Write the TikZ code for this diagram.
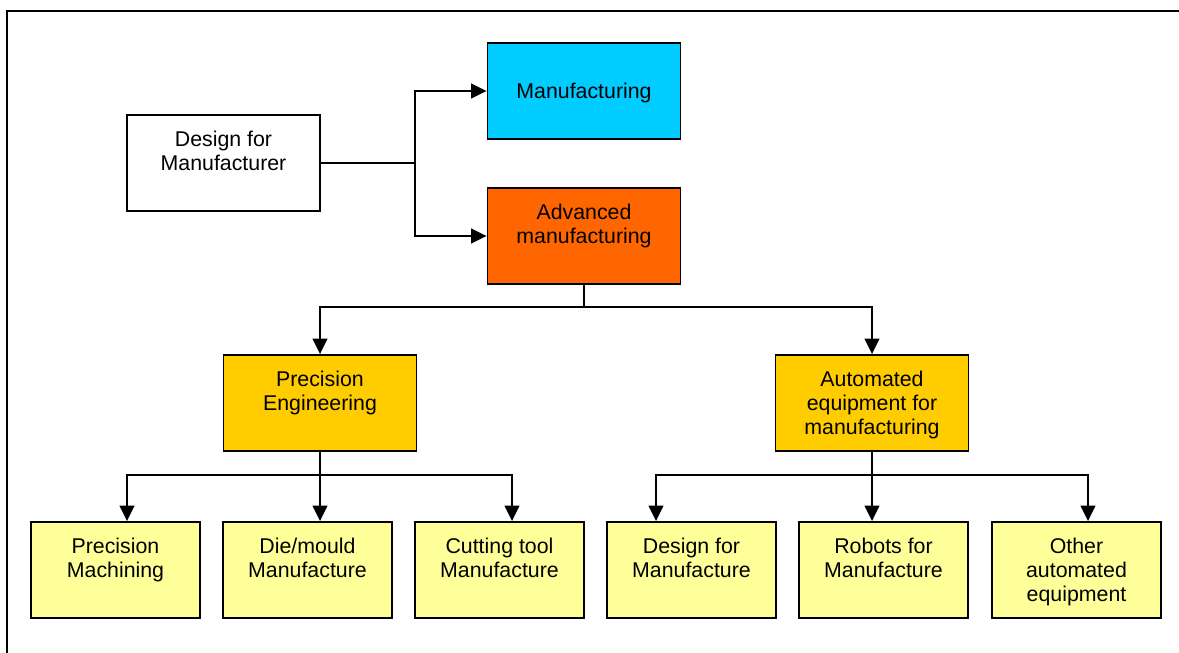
\documentclass[tikz,border=0pt]{standalone}
\usepackage{fontspec}
\setmainfont{Liberation Sans}
\usetikzlibrary{arrows.meta}
\definecolor{mfgcyan}{HTML}{00CCFF}
\definecolor{advorange}{HTML}{FF6600}
\definecolor{gold}{HTML}{FFCC00}
\definecolor{lightyel}{HTML}{FFFF99}
\newcommand{\bxt}[3]{\parbox[c][72pt][t]{#1}{\centering\rule{0pt}{#2}#3\par}}
\begin{document}
\begin{tikzpicture}[x=0.75pt,y=-0.75pt,
  bx/.style={draw=black, line width=1.4pt, inner sep=0pt, font=\fontsize{16}{18}\selectfont},
  ln/.style={line width=1.4pt},
  arr/.style={line width=1.4pt, -{Triangle[length=11.5pt,width=11pt]}}]
\useasboundingbox (0,0) rectangle (1179,653);
\clip (0,0) rectangle (1179,653);
\draw[line width=2pt] (7,11) rectangle (1200,680);
% nodes
\node[bx, fill=white] (dfm) at (223.5,163) {\bxt{144.75pt}{23.5pt}{Design for\\Manufacturer}};
\node[bx, fill=mfgcyan] (mfg) at (584,91) {\bxt{144.75pt}{41.5pt}{Manufacturing}};
\node[bx, fill=advorange] (adv) at (584,236) {\bxt{144.75pt}{23.5pt}{Advanced\\manufacturing}};
\node[bx, fill=gold] (pe) at (320,403) {\bxt{144.75pt}{23.5pt}{Precision\\Engineering}};
\node[bx, fill=gold] (ae) at (872,403) {\bxt{144.75pt}{23.5pt}{Automated\\equipment for\\manufacturing}};
\node[bx, fill=lightyel] (b1) at (115.5,570) {\bxt{126.75pt}{23.5pt}{Precision\\Machining}};
\node[bx, fill=lightyel] (b2) at (307.5,570) {\bxt{126.75pt}{23.5pt}{Die/mould\\Manufacture}};
\node[bx, fill=lightyel] (b3) at (499.5,570) {\bxt{126.75pt}{23.5pt}{Cutting tool\\Manufacture}};
\node[bx, fill=lightyel] (b4) at (691.5,570) {\bxt{126.75pt}{23.5pt}{Design for\\Manufacture}};
\node[bx, fill=lightyel] (b5) at (883.5,570) {\bxt{126.75pt}{23.5pt}{Robots for\\Manufacture}};
\node[bx, fill=lightyel] (b6) at (1076.5,570) {\bxt{126.75pt}{23.5pt}{Other\\automated\\equipment}};
% connectors
\coordinate (j1) at (415,163);
\draw[ln] (dfm.east) -- (j1);
\draw[arr] (j1) |- (mfg.west);
\draw[arr] (j1) |- (adv.west);
\coordinate (j2) at (584,307);
\draw[ln] (adv.south) -- (j2);
\draw[arr] (j2) -| (pe.north);
\draw[arr] (j2) -| (ae.north);
\coordinate (j3) at (320,475);
\draw[ln] (pe.south) -- (j3);
\draw[arr] (j3) -| ([xshift=8.625pt]b1.north);
\draw[arr] (j3) -- (b2.north -| j3);
\draw[arr] (j3) -| ([xshift=9.375pt]b3.north);
\coordinate (j4) at (872,475);
\draw[ln] (ae.south) -- (j4);
\draw[arr] (j4) -| ([xshift=-26.625pt]b4.north);
\draw[arr] (j4) -- (b5.north -| j4);
\draw[arr] (j4) -| ([xshift=8.625pt]b6.north);
\end{tikzpicture}
\end{document}
